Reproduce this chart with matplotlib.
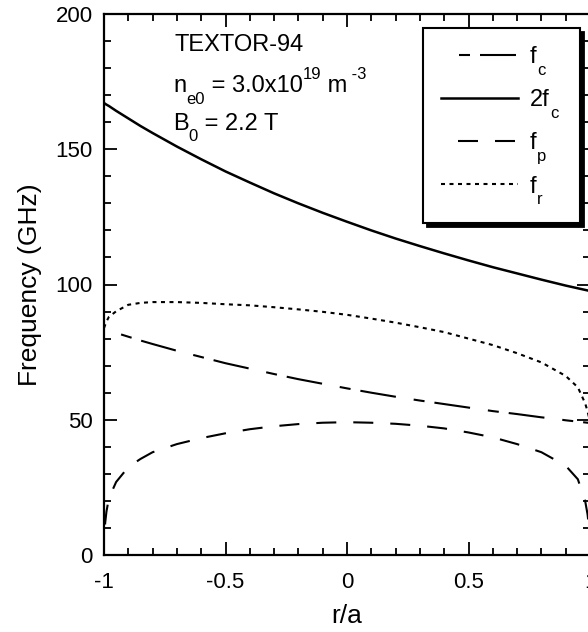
import matplotlib
matplotlib.use("Agg")
import matplotlib.pyplot as plt
from matplotlib.ticker import MultipleLocator
from matplotlib.patches import Rectangle

plt.rcParams['font.family'] = ['Liberation Sans', 'DejaVu Sans']
plt.rcParams['lines.scale_dashes'] = False

# Радиальная координата r/a
r = [-1.0, -0.995, -0.99, -0.98, -0.95, -0.9, -0.85, -0.8, -0.7, -0.6, -0.5,
     -0.4, -0.3, -0.2, -0.1, 0.0, 0.1, 0.2, 0.3, 0.4, 0.5, 0.6, 0.7, 0.8,
     0.85, 0.9, 0.95, 0.98, 0.99, 0.995, 1.0]

# Вторая гармоника ЭЦ частоты, ГГц
f_2c = [167.1, 166.8, 166.5, 166.0, 164.2, 161.4, 158.6, 156.0, 151.0, 146.3, 141.8,
        137.7, 133.7, 130.0, 126.5, 123.2, 120.0, 117.0, 114.2, 111.5, 108.9, 106.4,
        104.1, 101.8, 100.7, 99.6, 98.6, 98.0, 97.8, 97.7, 97.6]

# Электронная циклотронная частота
f_c = [83.6, 83.4, 83.3, 83.0, 82.1, 80.7, 79.3, 78.0, 75.5, 73.2, 70.9,
       68.9, 66.9, 65.0, 63.3, 61.6, 60.0, 58.5, 57.1, 55.8, 54.5, 53.2,
       52.1, 50.9, 50.4, 49.8, 49.3, 49.0, 48.9, 48.9, 48.8]

# Плазменная частота
f_p = [5.0, 12.0, 16.0, 21.0, 27.0, 32.5, 35.5, 38.0, 41.0, 43.2, 45.0,
       46.5, 47.6, 48.4, 48.9, 49.1, 48.9, 48.5, 47.8, 46.8, 45.3, 43.5,
       41.0, 38.0, 35.5, 33.0, 28.0, 20.0, 15.0, 11.0, 5.0]

# Правая отсечка
f_r = [83.9, 85.1, 86.3, 88.0, 90.1, 92.5, 93.2, 93.5, 93.5, 93.2, 92.7,
       92.3, 91.6, 90.8, 89.9, 88.8, 87.4, 85.9, 84.2, 82.4, 80.0, 77.6,
       74.6, 71.2, 68.7, 66.2, 62.0, 56.1, 53.1, 51.2, 49.3]

leg_labels = ['f', '2f', 'f', 'f']
leg_subs = ['c', 'c', 'p', 'r']

px = 0.72  # пиксели -> пункты при dpi=100
FS = 17
FS_SMALL = 12


def chain_text(ax, x, y, pieces):
    # Текст из кусков: (строка, размер, сдвиг по вертикали в pt)
    first = ax.text(x, y, pieces[0][0], transform=ax.transAxes, fontsize=pieces[0][1],
                    va='bottom')
    prev = first
    for s, size, dy in pieces[1:]:
        prev = ax.annotate(s, xy=(1, 0), xycoords=(prev, first), xytext=(0, dy),
                           textcoords='offset points', fontsize=size, va='bottom',
                           annotation_clip=False)
    return first


fig = plt.figure(figsize=(5.88, 6.32), dpi=100)
ax = fig.add_axes([104 / 588, 77 / 632, 486 / 588, 541 / 632])

ax.plot(r, f_c, color='k', lw=1.5,
        linestyle=(57 * px, (11 * px, 10 * px, 36 * px, 18 * px)))
ax.plot(r, f_2c, color='k', lw=1.8)
ax.plot(r, f_p, color='k', lw=1.5,
        linestyle=(20 * px, (20 * px, 17 * px)))
ax.plot(r, f_r, color='k', lw=1.5,
        linestyle=(0, (4 * px, 4.5 * px)))

ax.set_xlim(-1, 1)
ax.set_ylim(0, 200)
ax.set_xticks([-1, -0.5, 0, 0.5, 1])
ax.set_xticklabels(['-1', '-0.5', '0', '0.5', '1'])
ax.xaxis.set_minor_locator(MultipleLocator(0.1))
ax.yaxis.set_major_locator(MultipleLocator(50))
ax.yaxis.set_minor_locator(MultipleLocator(10))
ax.tick_params(which='both', direction='in', top=True, right=True, width=1.3,
               labelsize=16)
ax.tick_params(axis='y', pad=8)
ax.tick_params(axis='x', pad=12)
ax.tick_params(which='major', length=9.5)
ax.tick_params(which='minor', length=5)
for sp in ax.spines.values():
    sp.set_linewidth(1.6)

ax.set_xlabel('r/a', fontsize=19, labelpad=8)
ax.set_ylabel('Frequency (GHz)', fontsize=19, labelpad=10)

# Параметры разряда
ax.text(0.146, 0.931, 'TEXTOR-94', transform=ax.transAxes, fontsize=FS, va='baseline')
chain_text(ax, 0.142, 0.8475, [('n', FS, 0), ('e0', FS_SMALL, -7.6),
                               (' = 3.0x10', FS, 0), ('19', FS_SMALL, 10.4),
                               (' m', FS, 0), (' -3', FS_SMALL, 10.4)])
chain_text(ax, 0.142, 0.777, [('B', FS, 0), ('0', FS_SMALL, -6.5),
                              (' = 2.2 T', FS, 0)])

# Легенда: рамка с тенью, затем подписи с опущенными индексами
x0, x1 = 423 / 486 - 104 / 486, 580 / 486 - 104 / 486
y0, y1 = (555 - 223) / 541, (555 - 28) / 541
sx, sy = 3.5 / 486, 3.5 / 541
ax.add_patch(Rectangle((x0 + sx, y0 - sy), x1 - x0, y1 - y0, transform=ax.transAxes,
                       facecolor='k', edgecolor='k', lw=1.3, clip_on=False, zorder=4))
ax.add_patch(Rectangle((x0, y0), x1 - x0, y1 - y0, transform=ax.transAxes,
                       facecolor='white', edgecolor='k', lw=1.5, clip_on=False, zorder=4.5))

leg = ax.legend(ax.get_lines(), leg_labels, loc='upper left',
                bbox_to_anchor=(0.6934, 0.941), borderaxespad=0, borderpad=0,
                fontsize=FS, frameon=False, handlelength=3.26, handletextpad=0.5,
                labelspacing=0.9)
leg.set_zorder(5)
for t, s in zip(leg.get_texts(), leg_subs):
    ax.annotate(s, xy=(1, 0), xycoords=t, xytext=(0.5, -7.0), textcoords='offset points',
                fontsize=FS_SMALL, va='bottom', annotation_clip=False, zorder=6)

fig.canvas.draw()
fig.savefig('out.png', dpi=100)
